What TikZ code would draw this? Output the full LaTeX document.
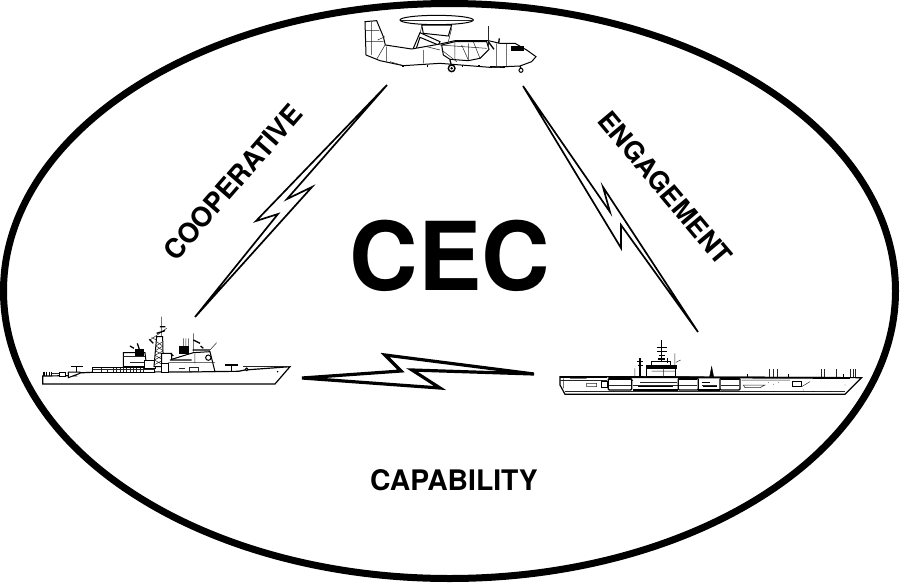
\documentclass[tikz,border=0pt]{standalone}
\usepackage{fontspec}
\setmainfont{TeX Gyre Heros}
\tikzset{
  bolt/.style={draw=black, line width=1.7pt, miter limit=8, line join=miter},
  boldlabel/.style={font=\bfseries\fontsize{#1}{#1}\selectfont, inner sep=0pt},
  outline/.style={draw=black, line width=1pt, fill=white},
  detail/.style={draw=black!85, line width=0.5pt},
  dark/.style={draw=black, line width=1.3pt},
}
\begin{document}
\begin{tikzpicture}[x=1pt,y=-1pt]
\useasboundingbox (0,0) rectangle (900,582);

% boundary
\draw[line width=7pt] (449.5,291) ellipse [x radius=446, y radius=287.5];

% end points of the links
\coordinate (planeleft) at (387,85);
\coordinate (planeright) at (523,86);
\coordinate (cruisertop) at (195,317);
\coordinate (cruiserright) at (302,378);
\coordinate (carriertop) at (698,332);
\coordinate (carrierleft) at (534,374);

\draw[bolt] (planeleft) -- (256,221) -- (278,214) -- (cruisertop) -- (312,187) -- (287,199) -- cycle;
\draw[bolt] (planeright) -- (621,248) -- (621,225) -- (carriertop) -- (603,187) -- (610,212) -- cycle;
\draw[bolt, line width=3.2pt] (cruiserright) -- (401,371) -- (385,355) -- (carrierleft) -- (412,370) -- (440,388) -- cycle;

% labels
\node[boldlabel=95] (cec) at (450,256) {CEC};
\node[boldlabel=28.3] (capability) at (454,480) {CAPABILITY};
\node[boldlabel=27.2, rotate=49] (cooperative) at (233,182) {COOPERATIVE};
\node[boldlabel=26.8, rotate=-50] (engagement) at (665,188) {ENGAGEMENT};

% aircraft, in 3x units
\begin{scope}[shift={(340,0)},scale=0.3333]
  \draw[detail] (240,100) -- (245,80) (335,85) -- (325,125) (250,85) -- (250,100);
  \draw[outline] (220,145) -- (240,98) -- (300,125) -- (295,135) -- (240,112) -- (228,148) -- cycle;
  \draw[outline] (75,65) -- (110,62) -- (130,110) -- (136,135) -- (215,147) -- (300,132) -- (345,122) -- (445,122) -- (480,130) -- (525,130) -- (560,150) -- (588,170) -- (575,185) -- (540,198) -- (450,202) -- (300,190) -- (190,197) -- (120,182) -- (78,165) -- cycle;
  \draw[outline] (305,135) -- (345,125) -- (440,125) -- (447,148) -- (420,175) -- (385,182) -- (330,178) -- (310,165) -- cycle;
  \draw[detail] (78,92) -- (118,92) (78,125) -- (130,125) (95,65) -- (95,165) (113,120) -- (135,110) (135,135) -- (110,178) (140,140) -- (140,185) (260,140) -- (300,150) (250,150) -- (250,190) (345,125) -- (345,178) (385,130) -- (385,180) (365,135) -- (385,180) (400,125) -- (420,175) (305,150) -- (350,185) (150,185) -- (190,197) (470,130) -- (470,200) (500,132) -- (500,198) (300,135) -- (440,145);
  \draw[outline] (290,60) ellipse [x radius=110, y radius=14];
  \draw[detail] (182,60) -- (398,60);
  \draw[outline] (245,75) -- (335,75) -- (325,108) -- (250,100) -- cycle;
  \draw[detail] (445,78) -- (445,150);
  \draw[dark] (445,125) -- (462,148) (478,115) -- (476,130);
  \draw[black, fill=black] (515,138) rectangle (550,152);
  \draw[dark] (330,180) -- (335,200) (540,198) -- (543,205) (450,200) -- (495,202);
  \draw[outline, line width=1.4pt] (335,205) circle (10);
  \draw[black, fill=black] (335,205) circle (3);
  \draw[outline] (543,211) circle (6);
  \draw[dark] (185,198) -- (192,198) (260,198) -- (265,198) (365,198) -- (370,198) (415,198) -- (420,198);
\end{scope}

% cruiser, in 3x units
\begin{scope}[shift={(30,310)},scale=0.3333]
  \draw[outline, line width=1.2pt] (38,198) -- (38,222) -- (735,222) -- (780,170) -- (645,180) -- (625,184) -- (185,187) -- (118,190) -- (135,197) -- cycle;
  \draw[outline] (188,173) rectangle (375,187);
  \draw[outline] (280,128) -- (345,128) -- (350,170) -- (280,170) -- cycle;
  \draw[black, fill=black] (315,117) rectangle (340,135);
  \draw[dark] (300,108) -- (312,115) (322,100) -- (328,118);
  \draw[detail] (250,173) -- (250,187) (260,173) -- (260,187) (270,173) -- (270,187) (280,173) -- (280,187) (290,173) -- (290,187) (300,173) -- (300,187) (310,173) -- (310,187) (320,173) -- (320,187) (330,173) -- (330,187) (340,173) -- (340,187) (215,173) -- (215,187) (232,178) -- (232,187) (280,140) -- (345,140) (300,158) -- (345,158) (188,178) -- (375,178);
  \draw[outline] (345,150) rectangle (378,175);
  % lattice mast
  \draw[detail] (395,20) -- (395,90) (360,90) -- (410,55) (365,82) -- (395,100);
  \draw[outline] (380,80) -- (398,80) -- (400,170) -- (372,170) -- cycle;
  \draw[detail] (380,95) -- (398,108) (398,95) -- (378,108) (378,108) -- (399,122) (399,108) -- (376,122) (376,122) -- (400,136) (400,122) -- (375,136) (375,136) -- (400,150) (400,136) -- (373,150) (373,150) -- (400,165) (400,150) -- (372,165);
  \draw[dark] (380,70) -- (405,62) (358,88) -- (370,100) (390,50) -- (406,50);
  \draw[outline] (395,130) -- (425,130) -- (425,148) -- (490,128) -- (540,125) -- (555,185) -- (395,186) -- cycle;
  \draw[outline] (395,160) -- (395,187) -- (415,187) -- (415,160) -- cycle;
  \draw[detail] (460,85) -- (460,112) (468,85) -- (468,112) (475,85) -- (475,112) (490,70) -- (490,125) (540,120) -- (560,98) (415,158) -- (555,158) (495,130) -- (495,160);
  \draw[black, fill=black] (448,110) rectangle (474,130);
  \draw[dark] (488,120) -- (540,120) (490,90) -- (510,100) (512,108) -- (520,115) (420,150) -- (485,150) (422,130) -- (430,138);
  \draw[outline] (535,143) circle (8);
  \draw[detail] (478,172) rectangle (505,185) (448,174) -- (465,174);
  % rotors and deck gear
  \draw[dark] (122,170) -- (158,170) (140,170) -- (140,185) (585,165) -- (625,165) (605,165) -- (605,183);
  \draw[dark] (42,185) -- (42,197) (50,185) -- (50,197) (58,185) -- (58,197) (64,185) -- (64,197);
  \draw[detail] (65,190) -- (90,190);
  \draw[outline] (90,188) rectangle (108,198);
  \draw[outline] (115,186) -- (150,186) -- (150,190) -- (115,203) -- cycle;
  \draw[detail] (640,170) -- (780,170);
  \draw[outline] (650,178) circle (4);
  \fill (743,185) circle (2.5);
\end{scope}

% carrier, in 3x units
\begin{scope}[shift={(550,335)},scale=0.3333]
  \draw[outline, line width=1.2pt] (30,150) -- (45,178) -- (885,178) -- (925,138) -- (935,128) -- (30,125) -- cycle;
  \draw[detail] (30,135) -- (170,135) (45,170) -- (885,170);
  \draw[line width=1.8pt] (175,126) -- (900,129);
  \draw[dark] (30,126) -- (170,126);
  % island
  \draw[outline] (290,90) rectangle (378,125);
  \draw[black, fill=black] (290,90) rectangle (378,99);
  \draw[outline] (305,78) rectangle (362,90);
  \draw[detail] (305,108) -- (378,108) (340,99) -- (340,125) (255,100) -- (255,125) (375,55) -- (375,90) (378,82) -- (392,75);
  \draw[dark] (335,15) -- (335,80) (320,38) -- (352,38) (322,50) -- (350,50) (326,62) -- (345,62) (325,72) -- (345,72) (352,70) -- (352,85) (270,70) -- (270,125) (262,80) -- (280,80) (264,92) -- (278,92);
  % hangar bays
  \foreach \xa/\xb in {175/245, 385/445, 510/570}
    \draw[dark, rounded corners=1pt, fill=white] (\xa,130) rectangle (\xb,165);
  \foreach \xa/\xb in {178/242, 388/442, 513/567} {
    \draw[detail] (\xa,152) -- (\xb,152);
    \draw[line width=1.5pt] (\xa,133) -- (\xb,133);
  }
  \draw[detail] (250,150) -- (385,150) (270,142) -- (380,142) (245,135) -- (250,135) (455,150) -- (500,150);
  \draw[dark] (250,165) -- (385,165) (445,165) -- (510,165) (265,155) -- (370,155) (460,155) -- (500,155) (455,142) -- (480,142);
  \draw[outline] (155,140) rectangle (172,158);
  \draw[detail] (110,145) -- (140,145) -- (140,155) -- (110,155) -- cycle (60,130) -- (110,130) (580,150) -- (645,150) -- (630,158) -- (585,158) -- cycle;
  \draw[outline] (727,140) rectangle (755,155);
  \draw[detail] (755,155) -- (780,140) (575,135) -- (720,135) (40,130) -- (40,160);
  % masts on the deck
  \draw[black, fill=black] (485,95) -- (479,125) -- (491,125) -- cycle;
  \foreach \x in {658,670,682,815,822,858,902,910,917}
    \draw[detail] (\x,102) -- (\x,127);
  \foreach \x in {593,715,880}
    \draw[dark] (\x,116) -- (\x,127);
  \foreach \x/\y in {655/142,670/148,685/142,760/165,885/150,108/170,190/170,300/170,480/170,672/170,790/170,840/170}
    \fill (\x,\y) circle (1.2);
\end{scope}
\end{tikzpicture}
\end{document}
